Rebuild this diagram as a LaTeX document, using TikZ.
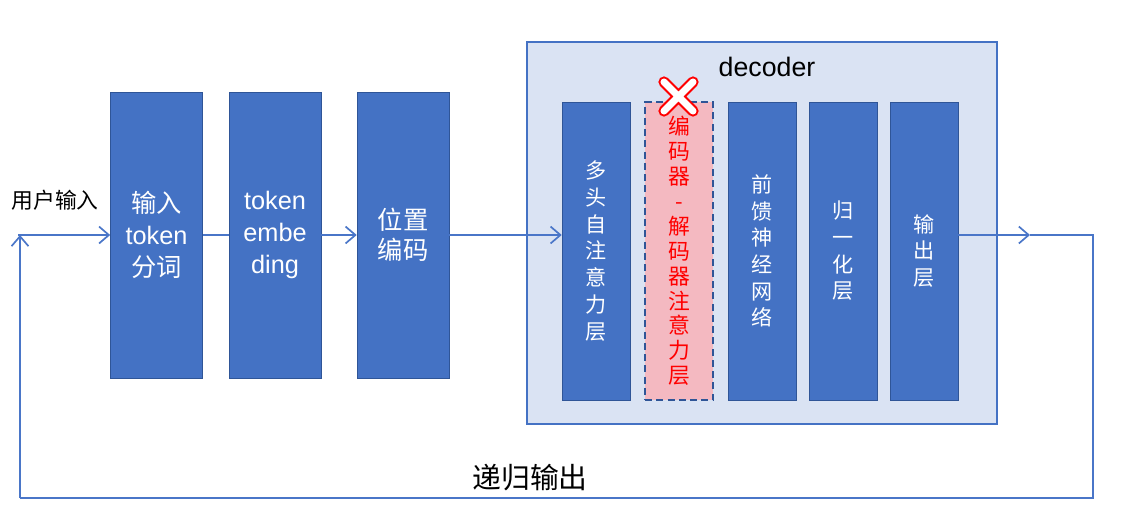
\documentclass[tikz,border=0pt]{standalone}
\usepackage{fontspec}
\setmainfont{Liberation Sans}
\newfontfamily\cjk{Noto Sans CJK SC}
\usetikzlibrary{arrows.meta}
\definecolor{blk}{HTML}{4472C4}
\definecolor{blkedge}{HTML}{2F5597}
\definecolor{decbg}{HTML}{DAE3F3}
\definecolor{pinkbg}{HTML}{F4B9C1}
\definecolor{wire}{HTML}{4A76C8}
\tikzset{
  bigbox/.style={draw=blkedge,fill=blk,text=white,minimum width=2.3cm,
    minimum height=7.15cm,align=center,inner sep=0pt,
    font=\fontsize{18}{22.7}\selectfont},
  layerbox/.style={draw=blkedge,fill=blk,text=white,minimum width=1.7cm,
    minimum height=7.45cm,align=center,inner sep=0pt,
    font=\cjk\fontsize{15}{19}\selectfont},
  wirearrow/.style={wire,line width=1.2pt,-{Straight Barb[length=7pt,width=12pt]}},
  wireline/.style={wire,line width=1.2pt}
}
\begin{document}
\begin{tikzpicture}[x=0.025cm,y=-0.025cm]
\useasboundingbox (0,0) rectangle (1128,526);
% decoder frame
\node[draw=blk,line width=1.2pt,fill=decbg,minimum width=11.75cm,minimum height=9.55cm,
  inner sep=0pt] (dec) at (762,233) {};
\node[font=\fontsize{19}{22}\selectfont] (dectitle) at (767,67) {decoder};
% input side
\node[bigbox] (tok) at (156.5,235) {\cjk 输入\\token\\\cjk 分词};
\node[bigbox] (emb) at (275,235) {token\\embe\\ding};
\node[bigbox,font=\cjk\fontsize{18}{21}\selectfont] (pos) at (403,235) {位置\\编码};
% decoder layers
\node[layerbox] (attn) at (596,251) {多\\头\\自\\注\\意\\力\\层};
\node[draw=blkedge,dash pattern=on 5pt off 3pt,line width=1.2pt,fill=pinkbg,text=red,
  minimum width=1.7cm,minimum height=7.45cm,align=center,inner sep=0pt,
  font=\cjk\fontsize{15.5}{17.7}\selectfont] (cross) at (679,251)
  {编\\码\\器\\-\\解\\码\\器\\注\\意\\力\\层};
\node[layerbox] (ffn) at (762,251) {前\\馈\\神\\经\\网\\络};
\node[layerbox] (norm) at (843,251) {归\\一\\化\\层};
\node[layerbox] (outl) at (924,251) {输\\出\\层};
% red cross over the removed layer
\draw[red,line width=8pt,line cap=round] (664,82) -- (693,111) (664,111) -- (693,82);
\draw[white,line width=5pt,line cap=round] (664,82) -- (693,111) (664,111) -- (693,82);
% texts
\node[font=\cjk\fontsize{15.5}{18}\selectfont] (user) at (55,200) {用户输入};
\node[font=\cjk\fontsize{20.5}{24}\selectfont] (rec) at (530,478) {递归输出};
% connectors
\coordinate (in) at (18,235);
\coordinate (mid) at (1030,235);
\coordinate (out) at (1093,235);
\coordinate (low) at (1093,498);
\coordinate (back) at (20,498);
\coordinate (top) at (20,235);
\draw[wirearrow] (in) -- (tok.west);
\draw[wireline] (tok.east) -- (emb.west);
\draw[wirearrow] (emb.east) -- (pos.west);
\draw[wirearrow] (pos.east) -- (attn.west |- pos.east);
\draw[wirearrow] (outl.east |- pos.east) -- (mid);
\draw[wireline] (mid) -- (out) -- (low) -- (back);
\draw[wirearrow] (back) -- (top);
\end{tikzpicture}
\end{document}
